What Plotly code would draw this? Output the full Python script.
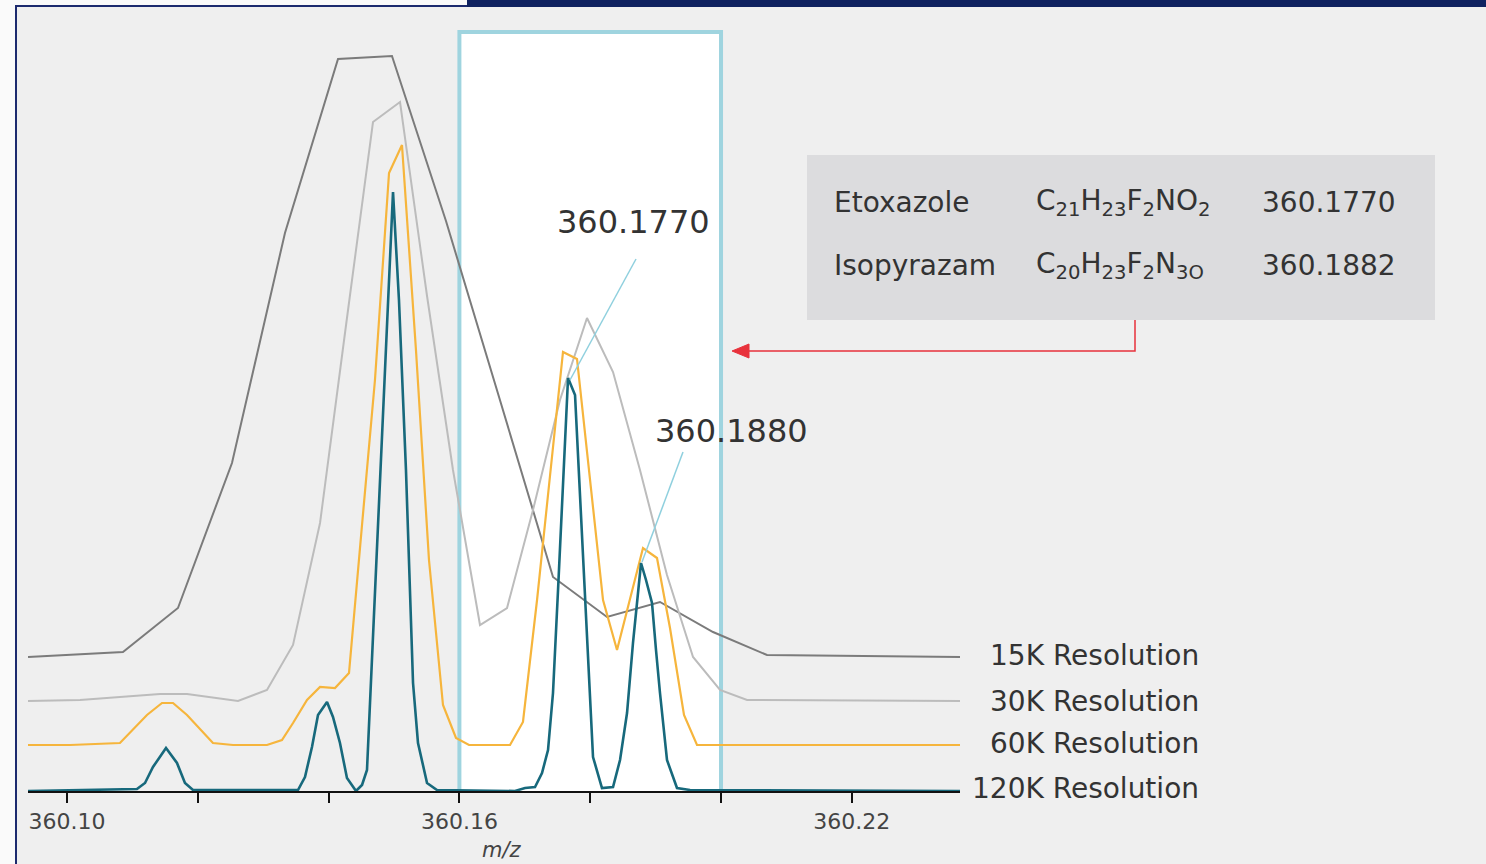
import plotly.graph_objects as go

# ---------------- data (m/z vs. relative intensity) -------------
series_names = ["15K Resolution", "30K Resolution", "60K Resolution", "120K Resolution"]
baseline_offsets = [134, 90, 46, 0]

mz_15k = [360.09404, 360.10856, 360.11697, 360.12523, 360.13333, 360.14144, 360.14969,
          360.15795, 360.16606, 360.17431, 360.18257, 360.19067, 360.19878, 360.20703, 360.23654]
int_15k = [0, 5, 49, 194, 424, 598, 601, 436, 260, 80, 40, 55, 25, 2, 0]

mz_30k = [360.09404, 360.10199, 360.11422, 360.11835, 360.12615, 360.13058, 360.13456,
          360.13869, 360.14281, 360.14679, 360.15092, 360.15505, 360.15902, 360.16315,
          360.16728, 360.17125, 360.17538, 360.17951, 360.18349, 360.18761, 360.19174,
          360.19572, 360.19985, 360.20398, 360.23654]
int_30k = [0, 1, 7, 7, 0, 11, 56, 178, 383, 579, 599, 405, 231, 76, 93, 191, 301, 383,
           329, 231, 126, 44, 11, 1, 0]

mz_60k = [360.09404, 360.10046, 360.10810, 360.11223, 360.11453, 360.11621, 360.11835,
          360.12232, 360.12538, 360.13058, 360.13287, 360.13456, 360.13670, 360.13869,
          360.14098, 360.14312, 360.14511, 360.14709, 360.14924, 360.15122, 360.15336,
          360.15535, 360.15749, 360.15948, 360.16147, 360.16774, 360.16972, 360.17187,
          360.17385, 360.17584, 360.17798, 360.17997, 360.18196, 360.18410, 360.18609,
          360.18807, 360.19021, 360.19220, 360.19434, 360.19633, 360.23654]
int_60k = [0, 0, 2, 30, 42, 42, 30, 2, 0, 0, 5, 22, 45, 58, 57, 72, 220, 365, 572, 600,
           395, 185, 40, 7, 0, 0, 23, 145, 269, 393, 386, 265, 145, 95, 146, 197, 187,
           117, 30, 0, 0]

mz_120k = [360.09404, 360.11070, 360.11193, 360.11315, 360.11514, 360.11682, 360.11804,
           360.11927, 360.13532, 360.13639, 360.13746, 360.13838, 360.13976, 360.14067,
           360.14174, 360.14281, 360.14419, 360.14511, 360.14587, 360.14679, 360.14786,
           360.14893, 360.14985, 360.15076, 360.15183, 360.15291, 360.15367, 360.15505,
           360.15657, 360.16850, 360.17004, 360.17156, 360.17263, 360.17355, 360.17431,
           360.17508, 360.17584, 360.17661, 360.17768, 360.17844, 360.17920, 360.18043,
           360.18180, 360.18349, 360.18456, 360.18563, 360.18654, 360.18777, 360.18853,
           360.18945, 360.19006, 360.19067, 360.19174, 360.19327, 360.19526, 360.23654]
int_120k = [0, 2, 8, 24, 43, 28, 8, 1, 1, 14, 44, 76, 89, 74, 48, 13, 0, 6, 21, 151, 311,
            461, 599, 491, 321, 108, 48, 8, 1, 0, 3, 4, 18, 41, 98, 201, 306, 413, 396, 294,
            191, 34, 3, 4, 31, 78, 148, 228, 211, 188, 141, 98, 31, 3, 1, 0]

tick_values = [360.10, 360.16, 360.22]
tick_labels = ["360.10", "360.16", "360.22"]
minor_tick_step = 0.02

peak_labels = ["360.1770", "360.1880"]
compounds = ["Etoxazole", "Isopyrazam"]
formulas = ["C<sub>21</sub>H<sub>23</sub>F<sub>2</sub>NO<sub>2</sub>",
            "C<sub>20</sub>H<sub>23</sub>F<sub>2</sub>N<sub>3O</sub>"]
masses = ["360.1770", "360.1882"]
window_mz = [360.16, 360.20]

# ---------------- styling -------------
colors = ["#7b7b7b", "#bcbcbc", "#f6b53c", "#17697c"]
widths = [2, 2, 2.2, 2.6]
FONT = "DejaVu Sans"
TXT = "#333333"

W, H = 1486, 864
L, R, T, B = 28, 526, 0, 73
PW, PH = W - L - R, H - T - B


def px(xp):
    return (xp - L) / PW


def py(yp):
    return (H - B - yp) / PH


fig = go.Figure()
all_mz = [mz_15k, mz_30k, mz_60k, mz_120k]
all_int = [int_15k, int_30k, int_60k, int_120k]
for name, mz, inten, off, c, w in zip(series_names, all_mz, all_int, baseline_offsets, colors, widths):
    fig.add_trace(go.Scatter(x=mz, y=[v + off for v in inten], mode="lines", name=name,
                             line=dict(color=c, width=w), showlegend=False))

RED = "#e8323c"
shapes = []
# white highlight window
shapes.append(dict(type="rect", xref="x", yref="y", x0=window_mz[0], x1=window_mz[1],
                   y0=-4, y1=759, fillcolor="white", line=dict(color="#9fd4df", width=4),
                   layer="below"))
# frame decorations
shapes.append(dict(type="rect", xref="paper", yref="paper", x0=px(0), x1=px(15), y0=py(864),
                   y1=py(0), fillcolor="#fafafa", line=dict(width=0), layer="below"))
shapes.append(dict(type="rect", xref="paper", yref="paper", x0=px(0), x1=px(467), y0=py(5),
                   y1=py(0), fillcolor="#fafafa", line=dict(width=0), layer="below"))
shapes.append(dict(type="line", xref="paper", yref="paper", x0=px(16), x1=px(16), y0=py(864),
                   y1=py(5), line=dict(color="#1c2a6e", width=2)))
shapes.append(dict(type="line", xref="paper", yref="paper", x0=px(16), x1=px(467), y0=py(6),
                   y1=py(6), line=dict(color="#1c2a6e", width=2)))
shapes.append(dict(type="rect", xref="paper", yref="paper", x0=px(467), x1=px(1486), y0=py(7),
                   y1=py(0), fillcolor="#0f2260", line=dict(width=0)))
# info box
shapes.append(dict(type="rect", xref="paper", yref="paper", x0=px(807), x1=px(1435),
                   y0=py(320), y1=py(155), fillcolor="#dcdcde", line=dict(width=0), layer="below"))
# red connector with arrow head
shapes.append(dict(type="path", xref="paper", yref="paper",
                   path=f"M {px(1135)},{py(320)} L {px(1135)},{py(351)} L {px(745)},{py(351)}",
                   line=dict(color=RED, width=1.5)))
shapes.append(dict(type="path", xref="paper", yref="paper",
                   path=f"M {px(732)},{py(351)} L {px(749)},{py(344)} L {px(749)},{py(358)} Z",
                   fillcolor=RED, line=dict(color=RED, width=1)))
# leader lines for peak labels
shapes.append(dict(type="line", xref="paper", yref="paper", x0=px(636), x1=px(570),
                   y0=py(259), y1=py(380), line=dict(color="#8fd0de", width=1.5)))
shapes.append(dict(type="line", xref="paper", yref="paper", x0=px(683), x1=px(642),
                   y0=py(452), y1=py(562), line=dict(color="#8fd0de", width=1.5)))

annotations = []
# peak labels
for lbl, (xc, yc) in zip(peak_labels, [(633, 222), (731, 431)]):
    annotations.append(dict(xref="paper", yref="paper", x=px(xc), y=py(yc), text=lbl,
                            showarrow=False, xanchor="center", yanchor="middle",
                            font=dict(family=FONT, size=32, color=TXT)))
# info table
for i, (cpd, frm, ms) in enumerate(zip(compounds, formulas, masses)):
    yc = [203, 265][i]
    for txt, xl in zip([cpd, frm, ms], [832, 1034, 1260]):
        annotations.append(dict(xref="paper", yref="paper", x=px(xl), y=py(yc), text=txt,
                                showarrow=False, xanchor="left", yanchor="middle",
                                font=dict(family=FONT, size=28, color=TXT)))
# series labels (right aligned)
for name, yc in zip(series_names, [655, 701, 743, 788]):
    annotations.append(dict(xref="paper", yref="paper", x=px(1201), y=py(yc), text=name,
                            showarrow=False, xanchor="right", yanchor="middle",
                            font=dict(family=FONT, size=28, color=TXT)))
# axis title
annotations.append(dict(xref="paper", yref="paper", x=px(502), y=py(850), text="<i>m/z</i>",
                        showarrow=False, xanchor="center", yanchor="middle",
                        font=dict(family=FONT, size=21, color="#444444")))

fig.update_layout(
    width=W, height=H,
    margin=dict(l=L, r=R, t=T, b=B, pad=0),
    paper_bgcolor="#efefef", plot_bgcolor="#efefef",
    shapes=shapes, annotations=annotations,
    xaxis=dict(range=[360.09404, 360.23654], tickvals=tick_values, ticktext=tick_labels,
               ticks="outside", ticklen=10, tickwidth=1.5, tickcolor="#111111",
               minor=dict(ticks="outside", ticklen=10, tickwidth=1.5, tickcolor="#111111",
                          tick0=tick_values[0], dtick=minor_tick_step, showgrid=False),
               showline=True, linecolor="#111111", linewidth=2, showgrid=False,
               zeroline=False, tickfont=dict(family=FONT, size=22, color="#444444")),
    yaxis=dict(range=[0, 791], visible=False, showgrid=False, zeroline=False),
)

fig.write_html("out.html", config={"displayModeBar": False},
               post_script="document.body.style.margin='0px';document.body.style.overflow='hidden';")
